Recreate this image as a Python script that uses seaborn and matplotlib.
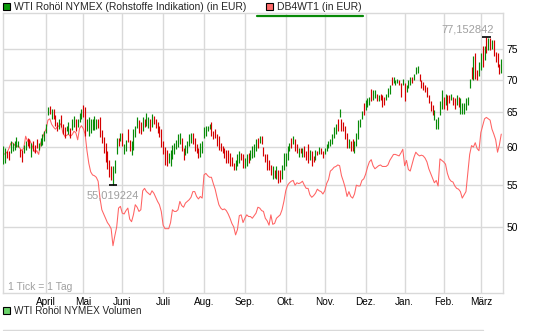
import numpy as np
import pandas as pd
import matplotlib
matplotlib.use("Agg")
import matplotlib.pyplot as plt
from matplotlib.patches import Rectangle
from matplotlib.lines import Line2D
from matplotlib.ticker import FixedLocator, NullLocator, FixedFormatter
import seaborn as sns

# ---------------- data ----------------
start_date = "2010-03-01"
end_date = "2011-03-16"
holidays = ["2010-04-02", "2010-04-05", "2010-12-24", "2010-12-31"]

bar_low = [
    57.7, 57.8, 58.5, 58.3, 59.2, 59.4, 59.6, 60.0, 60.0, 58.7, 58.0, 59.2,
    59.6, 60.1, 59.9, 58.7, 59.4, 59.2, 59.9, 59.6, 60.1, 60.3, 60.9, 62.0,
    64.5, 64.7, 64.0, 64.0, 63.0, 62.2, 62.5, 62.8, 61.8, 61.3, 62.2, 61.8,
    61.2, 62.4, 62.8, 62.2, 62.8, 63.5, 64.0, 64.2, 61.6, 62.3, 61.5, 62.0,
    62.4, 62.4, 62.5, 62.6, 61.4, 60.5, 59.2, 58.0, 57.1, 56.0, 55.7, 55.019224,
    56.5, 59.0, 60.2, 60.8, 60.1, 59.0, 59.5, 60.7, 59.5, 58.9, 59.6, 61.4,
    62.7, 62.0, 61.8, 62.2, 62.8, 62.9, 62.6, 62.3, 62.8, 63.2, 62.6, 62.0,
    61.4, 60.0, 59.0, 57.6, 57.5, 57.8, 57.4, 58.4, 59.0, 59.7, 60.0, 60.4,
    59.4, 58.3, 58.9, 59.2, 60.1, 60.6, 60.4, 59.4, 59.2, 58.5, 58.7, 59.2,
    61.3, 61.6, 62.2, 62.5, 61.6, 61.1, 61.3, 60.1, 59.6, 59.4, 59.2, 58.5,
    57.8, 57.8, 57.4, 57.4, 56.9, 56.9, 57.4, 57.8, 58.2, 57.2, 57.2, 57.4,
    57.8, 58.3, 58.5, 58.7, 59.4, 59.9, 60.6, 60.4, 58.8, 58.0, 57.0, 56.9,
    56.3, 55.8, 55.9, 55.8, 55.3, 55.4, 55.8, 57.0, 57.4, 58.3, 59.4, 59.9,
    60.4, 59.4, 59.2, 58.7, 59.2, 58.7, 58.7, 58.3, 57.8, 58.3, 57.4, 58.0,
    58.3, 58.9, 59.0, 59.0, 58.5, 59.0, 59.4, 59.9, 60.1, 60.4, 61.3, 61.8,
    62.3, 64.3, 62.3, 62.3, 61.1, 59.9, 59.9, 59.4, 59.4, 59.2, 60.1, 61.1,
    62.8, 64.0, 64.6, 65.3, 65.8, 66.0, 66.6, 66.8, 67.1, 66.6, 66.6, 66.8,
    65.8, 66.0, 66.8, 67.3, 67.8, 69.1, 69.4, 69.1, 69.4, 69.1, 67.3, 69.1,
    66.6, 68.1, 68.6, 69.1, 69.4, 69.9, 70.9, 71.1, 69.7, 68.6, 68.3, 68.1,
    67.3, 66.3, 65.1, 64.6, 63.8, 62.5, 62.5, 64.6, 65.5, 65.5, 66.0, 65.3,
    66.3, 66.8, 66.0, 65.5, 66.0, 65.8, 64.7, 64.7, 64.7, 65.3, 66.0, 68.6,
    70.1, 69.9, 70.1, 69.9, 70.6, 71.6, 72.1, 73.2, 74.3, 74.8, 74.8, 75.0,
    73.8, 72.8, 72.0, 70.9, 71.0,
]
bar_high = [
    60.1, 59.9, 59.4, 59.4, 60.9, 60.6, 60.8, 61.4, 60.9, 59.8, 59.6, 60.3,
    60.8, 61.3, 61.1, 60.6, 60.8, 60.3, 61.1, 60.6, 61.3, 61.8, 62.2, 63.3,
    65.8, 65.9, 65.5, 65.5, 64.5, 63.5, 64.0, 64.6, 63.2, 62.8, 63.0, 63.5,
    62.6, 64.0, 64.4, 63.9, 64.0, 64.8, 65.5, 66.1, 65.8, 64.0, 64.3, 63.9,
    64.0, 64.4, 63.9, 64.0, 64.3, 62.4, 61.4, 60.5, 59.5, 58.3, 57.5, 57.5,
    58.3, 61.2, 61.2, 62.0, 61.9, 60.4, 61.0, 62.5, 61.0, 60.8, 62.5, 63.0,
    64.2, 63.8, 63.5, 64.2, 64.0, 64.8, 64.2, 63.9, 64.7, 64.4, 64.0, 63.6,
    63.0, 62.5, 60.9, 60.0, 59.6, 59.2, 59.6, 60.3, 60.6, 61.0, 61.8, 61.9,
    61.3, 59.9, 60.3, 60.8, 61.8, 62.0, 62.0, 61.3, 60.4, 59.9, 60.6, 60.8,
    62.8, 63.0, 63.0, 63.3, 63.5, 62.3, 62.5, 61.8, 61.6, 60.6, 60.1, 59.9,
    59.6, 59.6, 59.2, 58.7, 57.8, 58.3, 59.0, 59.4, 59.2, 59.0, 58.5, 59.0,
    59.2, 59.6, 60.1, 60.4, 61.1, 61.3, 61.6, 61.6, 60.0, 59.0, 59.0, 58.3,
    57.6, 57.4, 57.0, 57.5, 57.0, 56.9, 57.6, 59.2, 59.2, 60.1, 60.6, 61.3,
    61.6, 61.1, 60.4, 59.9, 59.9, 59.9, 60.1, 59.4, 60.4, 59.6, 59.4, 58.8,
    59.6, 59.4, 60.0, 59.9, 59.4, 59.9, 60.4, 60.8, 61.1, 61.8, 62.8, 63.3,
    64.0, 65.5, 64.0, 63.6, 63.0, 62.0, 61.1, 60.8, 61.1, 60.8, 62.0, 63.8,
    64.0, 65.1, 66.3, 66.8, 67.1, 67.3, 68.5, 68.3, 68.3, 67.8, 67.6, 67.8,
    67.6, 67.3, 67.8, 68.6, 69.1, 70.4, 70.4, 69.9, 70.1, 69.9, 69.4, 70.1,
    69.4, 69.1, 69.9, 70.4, 70.4, 70.9, 72.1, 72.2, 70.9, 69.9, 69.6, 69.1,
    68.8, 67.6, 66.6, 66.0, 65.3, 64.0, 64.2, 66.6, 68.3, 67.3, 67.8, 67.6,
    67.6, 67.8, 67.3, 67.1, 67.6, 67.3, 67.1, 66.3, 66.3, 67.1, 67.3, 70.1,
    72.1, 73.8, 74.3, 71.6, 72.9, 74.3, 75.6, 75.6, 77.152842, 76.9, 77.0, 76.6,
    76.6, 74.6, 74.3, 72.5, 73.3,
]
bar_dir = (
    "ggrrgggggrrg" "grrgrrrggggg" "grgrrrgrrrgg" "rggrgggrrggg"
    "gggrrrrrrrrg" "ggrgrggrrggg" "grrgrggrgrrr" "rrrrrggggggg"
    "rrggggrrrrgg" "ggggrrrrrrrr" "rrrrrgggrrgg" "rggggrgrrrrr"
    "rgrgrrgggggr" "grrgrgrrrgrr" "grgrrggggggg" "rgrrrrgrrggg"
    "ggrgggrggrgr" "rrgggrgggrrg" "rgggrgggrrrr" "rrrrgggggrgr"
    "rgrrgrgggggg" "rgrrggrgrgrg" "rrrrg"
)

db4wt1 = [
    59.0, 59.1, 59.3, 59.8, 60.5, 60.6, 60.3, 60.0, 60.2, 59.8, 59.5, 59.9,
    61.5, 60.8, 61.0, 60.5, 59.8, 59.3, 59.5, 59.0, 60.5, 61.2, 62.0, 62.5,
    63.8, 64.0, 63.2, 62.8, 62.5, 62.8, 63.0, 63.3, 62.0, 61.5, 61.6, 61.8,
    61.5, 61.7, 62.2, 62.0, 61.0, 62.6, 63.0, 62.6, 61.8, 59.5, 57.8, 56.7,
    56.3, 56.2, 56.0, 55.5, 53.4, 52.0, 51.5, 51.0, 50.5, 50.2, 49.8, 47.9,
    49.0, 50.0, 52.2, 52.4, 51.6, 51.5, 51.9, 52.2, 50.9, 50.6, 51.4, 52.6,
    52.3, 51.8, 52.0, 54.3, 54.6, 54.2, 54.0, 53.8, 54.3, 54.0, 53.5, 53.0,
    52.6, 51.8, 50.2, 49.8, 49.8, 49.8, 50.5, 52.0, 51.8, 51.8, 52.0, 53.0,
    52.5, 52.3, 52.8, 53.0, 53.2, 53.5, 54.2, 54.2, 53.6, 53.3, 53.6, 53.4,
    56.3, 56.5, 56.2, 56.0, 56.0, 55.2, 54.5, 53.5, 52.6, 52.2, 52.0, 52.1,
    51.9, 51.5, 51.0, 50.4, 50.0, 49.1, 49.7, 51.3, 51.4, 50.5, 51.0, 51.4,
    51.2, 51.2, 51.0, 51.3, 51.6, 52.3, 52.2, 51.9, 51.8, 51.0, 50.7, 50.2,
    51.4, 50.3, 50.4, 51.0, 51.2, 51.4, 52.0, 53.0, 54.3, 55.0, 55.3, 55.5,
    55.6, 55.0, 55.3, 55.2, 55.3, 55.5, 55.0, 54.6, 54.6, 53.8, 53.5, 53.7,
    54.0, 54.5, 54.3, 54.2, 53.9, 54.3, 55.2, 55.7, 56.8, 57.0, 57.3, 57.4,
    57.6, 57.5, 56.2, 55.5, 54.7, 53.6, 54.2, 53.6, 53.4, 53.9, 55.0, 54.9,
    54.9, 55.6, 55.8, 56.4, 57.3, 58.0, 58.3, 57.5, 57.1, 57.3, 57.5, 57.6,
    57.4, 57.4, 57.4, 57.6, 58.2, 58.6, 59.0, 59.0, 58.9, 58.8, 59.2, 59.7,
    57.5, 58.2, 57.0, 56.8, 57.7, 58.6, 59.3, 59.0, 58.8, 58.9, 58.8, 58.5,
    58.0, 57.1, 56.5, 55.9, 55.3, 55.6, 54.9, 58.4, 58.2, 58.0, 57.7, 56.5,
    55.8, 55.5, 55.4, 54.9, 54.6, 54.5, 54.2, 53.4, 53.8, 54.2, 56.5, 59.0,
    60.2, 60.0, 60.6, 59.8, 59.5, 62.0, 63.0, 64.0, 64.2, 64.0, 63.8, 62.5,
    61.8, 61.0, 59.3, 60.3, 61.8,
]

month_labels = ["April", "Mai", "Juni", "Juli", "Aug.", "Sep.", "Okt.",
                "Nov.", "Dez.", "Jan.", "Feb.", "März"]
y_ticks = [50, 55, 60, 65, 70, 75]
legend_main = "WTI Rohöl NYMEX (Rohstoffe Indikation) (in EUR)"
legend_cert = "DB4WT1 (in EUR)"
legend_volume = "WTI Rohöl NYMEX Volumen"
tick_note = "1 Tick = 1 Tag"

# ---------------- frame ----------------
dates = pd.bdate_range(start_date, end_date, freq="C", holidays=holidays)
n = len(dates)
df = pd.DataFrame({
    "date": dates,
    "pos": np.arange(n),
    "low": bar_low[:n],
    "high": bar_high[:n],
    "up": [c == "g" for c in bar_dir[:n]],
    "db": db4wt1[:n],
})

sns.set_theme(style="white")
plt.rcParams["font.family"] = ["Liberation Sans", "DejaVu Sans"]

W, H = 545, 331
fig = plt.figure(figsize=(W / 100, H / 100), dpi=100)
ax = fig.add_axes([3 / W, 1 - 293.3 / H, 500.3 / W, 280.3 / H])

GREEN = "#078a07"
RED = "#d40000"
LINE = "#ff6262"
GRID = "#d9d9d9"

ax.set_yscale("log")
ax.set_ylim(42.97, 81.48)
ax.set_xlim(-0.2, n + 0.1)

sns.lineplot(data=df, x="pos", y="db", color=LINE, linewidth=0.75, ax=ax,
             zorder=2, legend=False)

colors = np.where(df["up"], GREEN, RED)
ax.vlines(df["pos"], df["low"], df["high"], colors=colors, linewidth=0.85, zorder=3)

# max / min markers
imax = int(df["high"].idxmax())
imin = int(df["low"].idxmin())
vmax = df["high"].iloc[imax]
vmin = df["low"].iloc[imin]
ax.hlines(vmax, imax - 2.4, imax + 2.4, color="black", linewidth=1.2, zorder=4)
ax.hlines(vmin, imin - 2.4, imin + 2.4, color="black", linewidth=1.2, zorder=4)
ax.annotate(f"{vmax:.6f}".replace(".", ","), xy=(imax, vmax), xytext=(5.7, 5.5),
            textcoords="offset points", ha="right", va="center",
            color="#a0a0a0", fontsize=8)
ax.annotate(f"{vmin:.6f}".replace(".", ","), xy=(imin, vmin), xytext=(0, -7.8),
            textcoords="offset points", ha="center", va="center",
            color="#a0a0a0", fontsize=8)

# axes styling
m = df["date"].dt.to_period("M")
starts = df.index[m != m.shift()].tolist()[1:]
ax.xaxis.set_major_locator(FixedLocator(starts))
ax.xaxis.set_major_formatter(FixedFormatter(month_labels[:len(starts)]))
ax.yaxis.set_major_locator(FixedLocator(y_ticks))
ax.yaxis.set_minor_locator(NullLocator())
ax.yaxis.set_major_formatter(FixedFormatter([str(t) for t in y_ticks]))
ax.yaxis.tick_right()
ax.tick_params(axis="y", length=0, pad=2.4, labelsize=7.5, colors="black")
ax.tick_params(axis="x", length=0, pad=2.6, labelsize=7.2, colors="black")
ax.tick_params(which="minor", length=0)
ax.set_xlabel("")
ax.set_ylabel("")
ax.grid(True, which="major", color=GRID, linewidth=1.0)
ax.set_axisbelow(True)
for s in ax.spines.values():
    s.set_color(GRID)
    s.set_linewidth(1.0)

# note inside plot
fig.text(7.5 / W, 1 - 287 / H, tick_note, color="#a0a0a0", fontsize=7.5,
         va="center", ha="left")

# legends
def square(x, y, color):
    fig.add_artist(Rectangle((x / W, 1 - (y + 7) / H), 7 / W, 7 / H,
                             transform=fig.transFigure, facecolor=color,
                             edgecolor="black", linewidth=0.8))

square(3.3, 2.7, "#0a9a0a")
fig.text(14 / W, 1 - 9.8 / H, legend_main, fontsize=7.5, va="baseline", ha="left")
square(265.7, 2.7, "#ff6a6a")
fig.text(277 / W, 1 - 9.8 / H, legend_cert, fontsize=7.5, va="baseline", ha="left")
fig.add_artist(Line2D([257 / W, 363 / W], [1 - 15.5 / H, 1 - 15.5 / H],
                      transform=fig.transFigure, color="#078a07", linewidth=1.6))

square(3.3, 306.5, "#6ad36a")
fig.text(14 / W, 1 - 314 / H, legend_volume, fontsize=7.2, va="baseline", ha="left")
fig.add_artist(Line2D([3 / W, 483 / W], [1 - 329.5 / H, 1 - 329.5 / H],
                      transform=fig.transFigure, color=GRID, linewidth=1.0))

fig.savefig("out.png", dpi=100)
